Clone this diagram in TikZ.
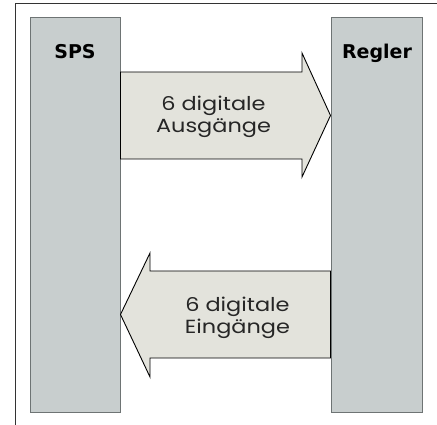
\documentclass[tikz,border=0pt]{standalone}
\usepackage{fontspec}
\setmainfont{Poppins}
\newfontfamily\labelfont[FakeStretch=1.18]{Poppins}
\newfontfamily\titlefont{DejaVu Sans}
\begin{document}
\begin{tikzpicture}[x=1pt,y=-1pt,
  unit/.style={fill=boxgray,draw=boxborder,line width=1pt},
  bigarrow/.style={fill=arrowfill,draw=black,line width=0.9pt,line join=miter},
  title/.style={font=\titlefont\bfseries\fontsize{19}{21}\selectfont,anchor=base,inner sep=0pt},
  label/.style={font=\labelfont\fontsize{19}{22}\selectfont,align=center,anchor=center,inner sep=0pt,text=black!85}]
\definecolor{boxgray}{HTML}{C8CECE}
\definecolor{boxborder}{HTML}{6E7474}
\definecolor{arrowfill}{HTML}{E3E3DC}
\useasboundingbox (0,0) rectangle (437,425);
\draw[line width=1pt,color=black!80] (15,430) -- (15,3.7) -- (440,3.7);
\node[unit,minimum width=90pt,minimum height=394pt,inner sep=0pt] (sps) at (75,215) {};
\node[unit,minimum width=91pt,minimum height=394pt,inner sep=0pt] (regler) at (376.5,215) {};
\node[title] (spst) at (75,59) {SPS};
\node[title] (reglert) at (377,59) {Regler};
\coordinate (a1) at (sps.east |- 0,72);
\draw[bigarrow] (a1) -- (302,72) -- (302,53) -- (regler.west |- 0,115.5) -- (302,177) -- (302,159) -- (sps.east |- 0,159) -- cycle;
\coordinate (a2) at (regler.west |- 0,271);
\draw[bigarrow] (a2) -- (150,271) -- (150,253) -- (sps.east |- 0,314.5) -- (150,377) -- (150,358) -- (regler.west |- 0,358) -- cycle;
\node[label] (out) at (213.5,117) {6 digitale\\Ausgänge};
\node[label] (in) at (237.5,318) {6 digitale\\Eingänge};
\end{tikzpicture}
\end{document}
